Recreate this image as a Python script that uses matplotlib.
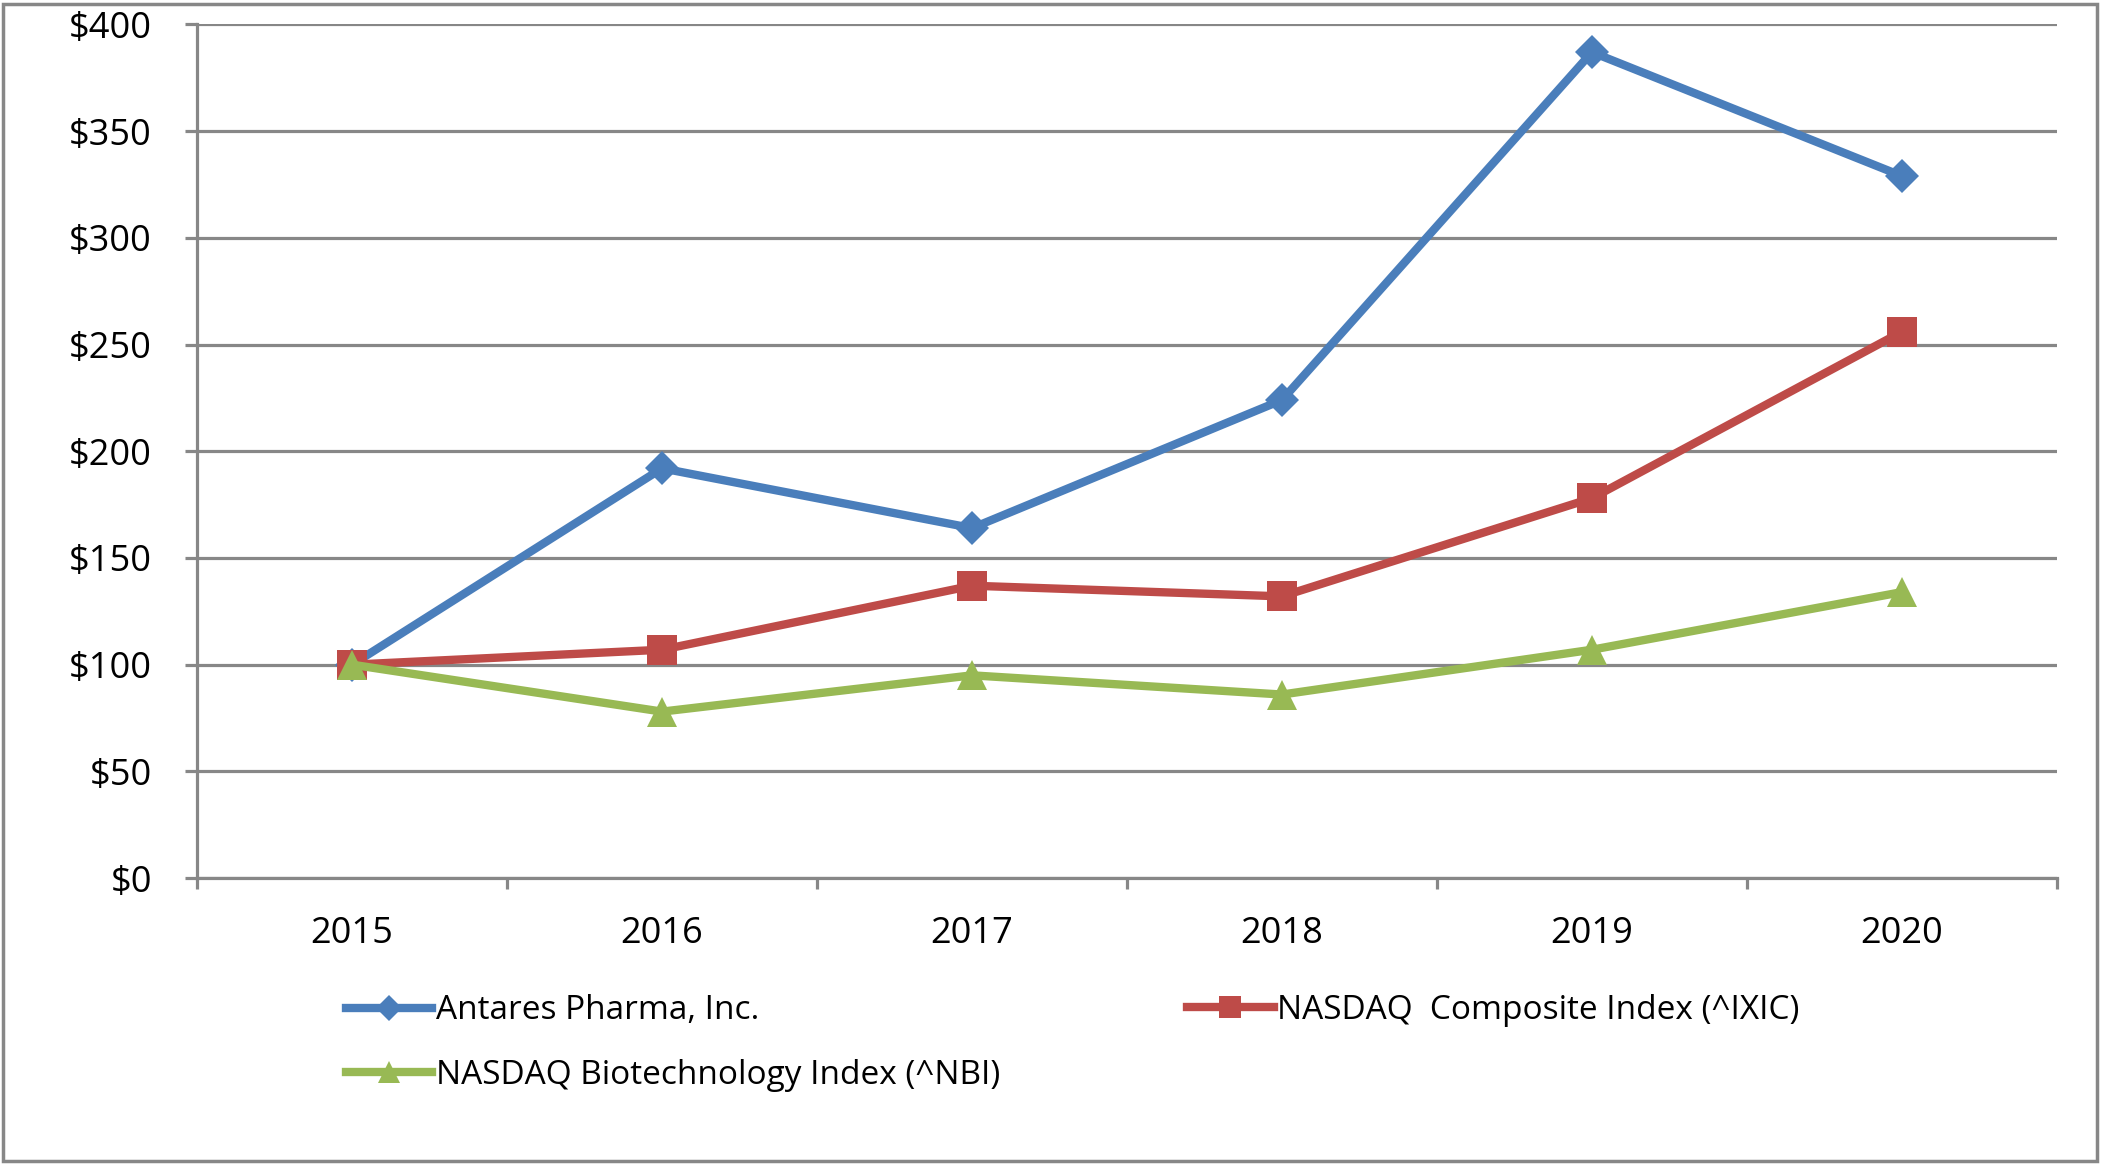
"""Cumulative total return chart: Antares Pharma vs NASDAQ indexes, 2015-2020."""
import matplotlib
matplotlib.use("Agg")
import matplotlib.pyplot as plt
from matplotlib.patches import Rectangle
from matplotlib.ticker import FixedLocator

YEARS = ["2015", "2016", "2017", "2018", "2019", "2020"]
ANTARES = [100, 192, 164, 224, 387, 329]
NASDAQ_COMP = [100, 107, 137, 132, 178, 256]
NASDAQ_BIO = [100, 78, 95, 86, 107, 134]
Y_TICKS = [0, 50, 100, 150, 200, 250, 300, 350, 400]

SERIES = [
    ("Antares Pharma, Inc.", ANTARES, "#4A7EBB", "D", 17),
    ("NASDAQ  Composite Index (^IXIC)", NASDAQ_COMP, "#BE4B48", "s", 22),
    ("NASDAQ Biotechnology Index (^NBI)", NASDAQ_BIO, "#98B954", "^", 21),
]
GRID = "#878787"

plt.rcParams["font.family"] = ["Open Sans", "DejaVu Sans"]
plt.rcParams["font.size"] = 26

fig = plt.figure(figsize=(21.01, 11.65), dpi=100)
ax = fig.add_axes([0.0938, 0.2463, 0.979 - 0.0938, 0.979 - 0.2463])

x = [i + 0.5 for i in range(len(YEARS))]
handles = []
for label, vals, color, marker, ms in SERIES:
    h, = ax.plot(x, vals, color=color, lw=6, marker=marker, ms=ms,
                 markeredgewidth=0, label=label, zorder=3)
    handles.append(h)

ax.set_xlim(0, len(YEARS))
ax.set_ylim(0, 400)
ax.set_yticks(Y_TICKS)
ax.set_yticklabels([f"${v}" for v in Y_TICKS])
ax.xaxis.set_major_locator(FixedLocator(range(len(YEARS) + 1)))
ax.xaxis.set_minor_locator(FixedLocator(x))
ax.set_xticklabels([], minor=False)
ax.set_xticklabels(YEARS, minor=True)

ax.grid(axis="y", color=GRID, lw=2.3, zorder=1)
for s in ("top", "right"):
    ax.spines[s].set_visible(False)
for s in ("left", "bottom"):
    ax.spines[s].set_color(GRID)
    ax.spines[s].set_linewidth(2.3)
ax.tick_params(axis="y", which="major", direction="out", length=8.5, width=2.3,
               color=GRID, pad=24, labelcolor="black")
ax.tick_params(axis="x", which="major", direction="out", length=8, width=2.3,
               color=GRID)
ax.tick_params(axis="x", which="minor", length=0, pad=27)

leg_kw = dict(frameon=False, handlelength=2.6, handletextpad=0.1,
              markerscale=0.75, borderpad=0, borderaxespad=0,
              fontsize=24, labelspacing=0.95, loc="center left")
fig.legend([handles[0], handles[2]], [SERIES[0][0], SERIES[2][0]],
           bbox_to_anchor=(0.1646, 0.1045), **leg_kw)
fig.legend([handles[1]], [SERIES[1][0]],
           bbox_to_anchor=(0.565, 0.1325), **leg_kw)

# outer chart border
fig.patches.append(Rectangle((0.0015, 0.0035), 0.9965, 0.993, transform=fig.transFigure,
                             fill=False, edgecolor=GRID, lw=2.5))

fig.savefig("out.png", dpi=100)
